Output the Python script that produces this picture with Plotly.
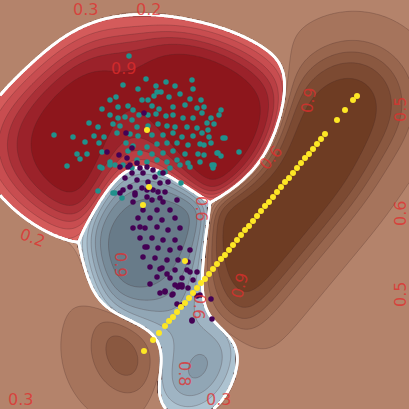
import numpy as np
import plotly.graph_objects as go

# ---------------- data (pixel-like units, y downward) -------------
teal_x = [129,146,123,138,156,166,175,192,193,116,110,142,148,157,161,154,169,180,190,201,
          102,118,128,133,139,152,159,173,185,197,110,118,125,132,148,156,166,173,183,193,
          202,89,98,113,120,137,148,158,167,175,187,197,54,73,94,104,117,130,138,152,
          163,173,182,193,202,85,99,126,133,147,157,167,177,188,200,77,87,102,128,140,
          152,163,173,185,198,67,80,102,110,115,137,147,157,167,177,188,200,98,115,181,
          132,204,221,219,211,207,214,208,225,209,204,211,217,221,239,204,214,213,223,218,
          212,100,110,123,180,190,170,165,160,113,122]
teal_y = [56,79,85,89,86,82,86,80,89,97,100,100,100,92,92,96,97,94,99,100,
          109,107,106,110,115,106,109,107,105,108,115,118,117,120,115,114,116,115,118,118,
          113,123,127,124,126,127,126,124,126,127,127,128,135,137,136,137,133,134,136,135,
          135,133,137,136,133,142,143,143,146,147,144,143,143,145,144,154,154,152,151,153,
          154,153,151,154,154,166,159,168,162,165,160,162,160,162,160,163,162,191,193,183,
          168,107,110,115,118,123,124,130,138,137,145,143,153,156,152,155,165,168,138,153,
          165,167,165,165,165,167,168,172,173,193,198]

purple_x = [144,126,132,107,119,127,137,128,140,147,153,132,143,155,163,125,137,148,160,168,
            130,142,153,165,120,135,147,160,177,120,130,123,135,147,158,133,152,163,143,157,
            170,138,150,162,175,133,145,157,168,180,140,152,163,175,147,158,170,180,190,143,
            155,167,178,188,150,162,175,187,197,157,170,182,193,180,140,145,160,167,165,173,
            182,190,192,177,197,150,160,165,172,175,178,182,188,182,192,200,211,212]
purple_y = [113,133,148,152,155,158,163,167,168,167,170,173,173,177,173,178,180,182,183,182,
            187,188,190,192,193,195,197,198,200,167,165,190,193,190,192,202,200,202,210,210,
            210,218,218,220,218,228,228,227,230,228,238,238,240,240,247,248,250,248,250,257,
            258,260,260,262,267,268,270,270,272,277,278,278,280,285,227,247,269,274,292,294,
            287,272,321,304,296,284,293,291,295,285,287,285,288,305,320,295,299,319]

yellow_x = [144,153,159,165,169,173,177,181,185,189,193,197,201,205,209,213,217,221,225,229,
            233,237,241,245,249,253,257,261,265,269,273,277,281,285,289,293,297,301,305,309,
            313,317,321,325,337,345,353,357,149,143,147,185]
yellow_y = [351,340,333,326,321,317,312,307,303,298,293,288,283,279,274,269,264,259,255,250,
            245,240,235,230,226,221,216,211,206,202,197,192,187,182,178,173,168,163,158,154,
            149,144,139,134,120,110,100,96,187,205,130,261]

# contour label texts
label_text = ["0.3", "0.2", "0.9", "0.2", "0.3", "0.3", "0.9", "0.8", "0.6", "0.6",
              "0.9", "0.5", "0.6", "0.5", "0.9", "0.6"]
label_x = [85, 148, 123, 32, 20, 218, 121, 185, 200, 202, 308, 400, 400, 400, 239, 270]
label_y = [9, 9, 68, 237, 399, 399, 264, 373, 306, 208, 101, 110, 214, 295, 286, 158]
label_angle = [0, 0, 0, 20, 0, 0, 90, 90, 95, 90, -80, -90, -90, -90, -75, -50]

# ---------------- probability field from a kernel model of the three classes --------------
W = H = 409
gx = np.linspace(0, W, 206)
gy = np.linspace(0, H, 206)
GX, GY = np.meshgrid(gx, gy)


def kde(px, py, hx, hy):
    px = np.asarray(px, float)
    py = np.asarray(py, float)
    dx = (GX[..., None] - px) / hx
    dy = (GY[..., None] - py) / hy
    return np.exp(-0.5 * (dx * dx + dy * dy)).sum(-1)


GAMMA = 2.0
s0 = 0.45 * kde(purple_x, purple_y, 22, 48) + 0.65
s1 = 0.42 * kde(teal_x, teal_y, 40, 26) + 0.78
s2 = 0.80 * kde(yellow_x, yellow_y, 28, 28) + 1.00
S = np.stack([s0, s1, s2]) ** GAMMA
P = S / S.sum(0)
cls = P.argmax(0)
pmax = P.max(0)
combined = cls + np.clip(pmax, 0, 0.999)

# per-class colour ramps for bands 0.3-0.4 ... 0.9-1.0
blue_ramp = ["#bcd1dd", "#adc3d1", "#9fb4c3", "#91a6b5", "#8498a7", "#778b99", "#687b89"]
red_ramp = ["#de6764", "#d45b5b", "#c84d50", "#ba3f44", "#aa3037", "#9b222a", "#8d161c"]
brown_ramp = ["#c4937b", "#b4836b", "#a6745c", "#98664e", "#8a5840", "#7c4a32", "#6e3c23"]
ramps = [blue_ramp, red_ramp, brown_ramp]

n_levels = 31  # levels 0,0.1,...,3.0
band_cols = []
for j in range(n_levels + 1):
    if j == 0:
        band_cols.append(blue_ramp[0])
        continue
    c = min((j - 1) // 10, 2)
    i = (j - 1) % 10
    band_cols.append(ramps[c][max(i - 3, 0)])
colorscale = [[j / n_levels, band_cols[j]] for j in range(n_levels + 1)]

fig = go.Figure()
fig.add_trace(go.Contour(
    x=gx, y=gy, z=combined,
    autocontour=False,
    contours=dict(start=0, end=3, size=0.1, coloring="fill"),
    colorscale=colorscale, showscale=False,
    line=dict(width=0.7, color="rgba(60,35,35,0.35)"),
    hoverinfo="skip",
))

# decision boundaries (white)
for k in range(3):
    others = np.max(np.delete(P, k, axis=0), axis=0)
    d = P[k] - others
    fig.add_trace(go.Contour(
        x=gx, y=gy, z=d, autocontour=False,
        contours=dict(start=0, end=0, size=1, coloring="none"),
        line=dict(width=2.8, color="white", smoothing=1),
        showscale=False, hoverinfo="skip",
    ))

fig.add_trace(go.Scatter(x=teal_x, y=teal_y, mode="markers",
                         marker=dict(size=5.5, color="#21918c"), hoverinfo="skip"))
fig.add_trace(go.Scatter(x=purple_x, y=purple_y, mode="markers",
                         marker=dict(size=5.5, color="#440154"), hoverinfo="skip"))
fig.add_trace(go.Scatter(x=yellow_x, y=yellow_y, mode="markers",
                         marker=dict(size=6, color="#fde725"), hoverinfo="skip"))

for t, x, y, a in zip(label_text, label_x, label_y, label_angle):
    fig.add_annotation(x=x, y=y, text=t, textangle=a, showarrow=False,
                       font=dict(family="DejaVu Sans", size=16, color="rgba(226,45,45,0.75)"))

fig.update_layout(
    width=409, height=409, margin=dict(l=0, r=0, t=0, b=0),
    showlegend=False, paper_bgcolor="white", plot_bgcolor="white",
    xaxis=dict(range=[0, W], visible=False, fixedrange=True),
    yaxis=dict(range=[H, 0], visible=False, fixedrange=True),
)
fig.write_html("out.html", config={"displayModeBar": False},
               post_script="document.body.style.margin='0';document.body.style.overflow='hidden';")
